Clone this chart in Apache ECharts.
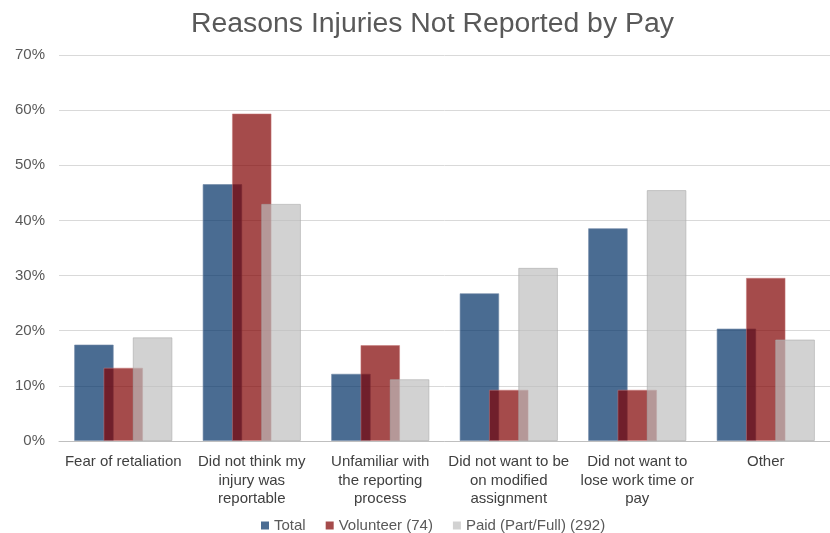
<!DOCTYPE html>
<html>
<head>
<meta charset="utf-8">
<script src="https://cdn.jsdelivr.net/npm/echarts@6/dist/echarts.min.js"></script>
<style>
  html, body { margin: 0; padding: 0; background: #fff; }
  #chart { width: 830px; height: 533px; }
</style>
</head>
<body>
<div id="chart"></div>
<script>
// Reasons categories (line breaks as shown under the axis)
const categories = [
  'Fear of retaliation',
  'Did not think my\ninjury was\nreportable',
  'Unfamiliar with\nthe reporting\nprocess',
  'Did not want to be\non modified\nassignment',
  'Did not want to\nlose work time or\npay',
  'Other'
];

// Percent of respondents per reason
const totalValues     = [17.5, 46.6, 12.2, 26.8, 38.6, 20.4];
const volunteerValues = [13.3, 59.4, 17.4,  9.3,  9.3, 29.6];
const paidValues      = [18.8, 43.0, 11.2, 31.4, 45.5, 18.4];

const seriesNames = ['Total', 'Volunteer (74)', 'Paid (Part/Full) (292)'];
const yTicks = [0, 10, 20, 30, 40, 50, 60, 70];

const chart = echarts.init(document.getElementById('chart'));

const FONT = 'Liberation Sans, Arial, sans-serif';

const fills = [
  'rgba(0, 48, 101, 0.71)',
  'rgba(128, 2, 2, 0.71)',
  'rgba(188, 188, 188, 0.68)'
];
const edges = [
  'rgba(110, 135, 165, 0.6)',
  'rgba(200, 120, 120, 0.5)',
  'rgba(170, 170, 170, 0.6)'
];

const seriesData = [totalValues, volunteerValues, paidValues];

chart.setOption({
  animation: false,
  title: {
    text: 'Reasons Injuries Not Reported by Pay',
    left: 186,
    top: 5,
    textStyle: {
      fontFamily: FONT,
      fontSize: 28.4,
      fontWeight: 'normal',
      color: '#595959'
    }
  },
  legend: {
    bottom: -5,
    left: 256,
    icon: 'rect',
    itemWidth: 8,
    itemHeight: 8,
    itemGap: 20,
    textStyle: {
      fontFamily: FONT,
      fontSize: 15,
      color: '#595959'
    },
    data: seriesNames.map((n, i) => ({ name: n, itemStyle: { color: fills[i], borderWidth: 0 } }))
  },
  grid: {
    left: 59,
    right: 0,
    top: 55,
    bottom: 92,
    containLabel: false
  },
  xAxis: {
    type: 'category',
    data: categories,
    axisTick: { show: false },
    axisLine: { lineStyle: { color: '#BFBFBF', width: 1 } },
    axisLabel: {
      interval: 0,
      margin: 12,
      fontFamily: FONT,
      fontSize: 15,
      lineHeight: 18.5,
      color: '#404040',
      align: 'center'
    }
  },
  yAxis: {
    type: 'value',
    min: yTicks[0],
    max: yTicks[yTicks.length - 1],
    interval: 10,
    axisLine: { show: false },
    axisTick: { show: false },
    splitLine: { lineStyle: { color: '#D9D9D9', width: 1 } },
    axisLabel: {
      margin: 14,
      formatter: '{value}%',
      fontFamily: FONT,
      fontSize: 15,
      color: '#595959'
    }
  },
  series: seriesData.map((vals, i) => ({
    name: seriesNames[i],
    type: 'bar',
    data: vals,
    barGap: '-26%',
    barCategoryGap: '23.5%',
    itemStyle: {
      color: fills[i],
      borderColor: edges[i],
      borderWidth: 1
    }
  }))
});
</script>
</body>
</html>
